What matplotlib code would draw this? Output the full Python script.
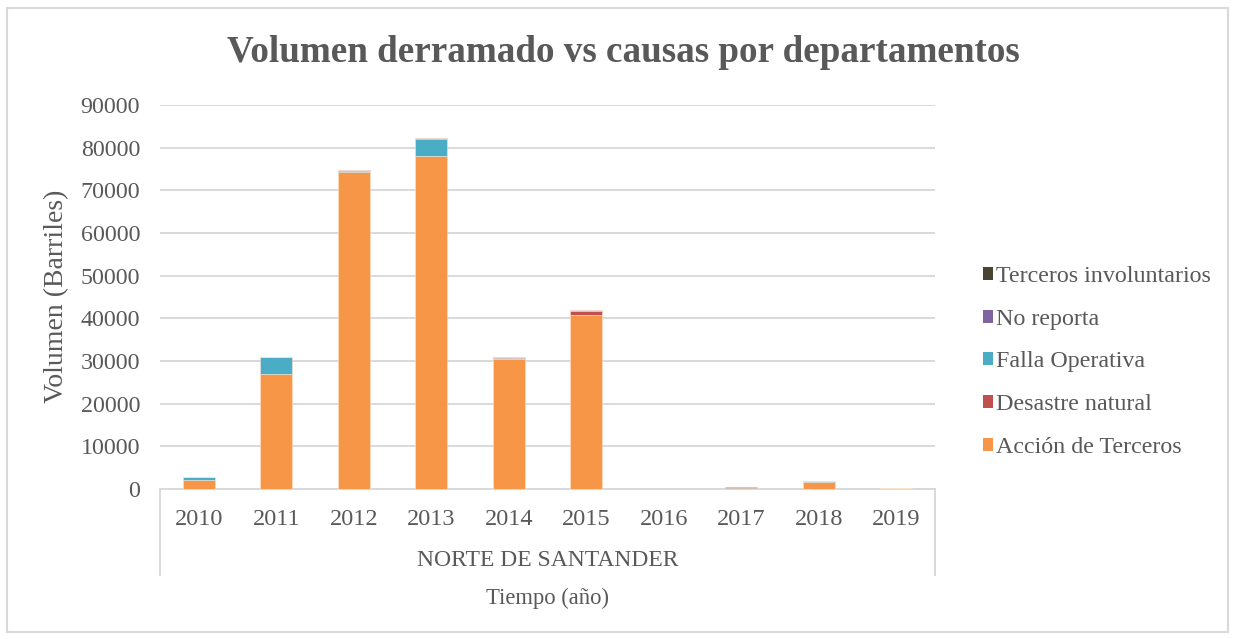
import matplotlib
matplotlib.use("Agg")
import matplotlib.pyplot as plt
from matplotlib.patches import Rectangle, Patch
from matplotlib.lines import Line2D
import numpy as np

years = ["2010", "2011", "2012", "2013", "2014", "2015", "2016", "2017", "2018", "2019"]
series_names = ["Acción de Terceros", "Desastre natural", "Falla Operativa", "No reporta", "Terceros involuntarios"]
accion_terceros = [2100, 27000, 74400, 78100, 30400, 40800, 100, 200, 1700, 150]
desastre_natural = [0, 0, 0, 0, 0, 850, 0, 0, 0, 0]
falla_operativa = [700, 4000, 200, 4000, 300, 0, 0, 0, 150, 0]
no_reporta = [0, 0, 200, 200, 150, 300, 0, 0, 0, 0]
terceros_involuntarios = [0, 0, 0, 0, 0, 0, 0, 200, 0, 200]
colors = ["#F79646", "#C0504D", "#4BACC6", "#8064A2", "#4A4530"]

title = "Volumen derramado vs causas por departamentos"
group_label = "NORTE DE SANTANDER"
xlabel = "Tiempo (año)"
ylabel = "Volumen (Barriles)"
yticks = [0, 10000, 20000, 30000, 40000, 50000, 60000, 70000, 80000, 90000]

plt.rcParams['font.family'] = ['Liberation Serif', 'DejaVu Serif']
txt = "#595959"
grid_c = "#D9D9D9"

W, H = 1236, 639
fig = plt.figure(figsize=(W / 100, H / 100), dpi=100)

# outer chart border
fig.patches.append(Rectangle((7 / W, 1 - 632 / H), (1228 - 7) / W, (632 - 8) / H,
                             transform=fig.transFigure, fill=False, edgecolor=grid_c, linewidth=1.5))

L, R, B, T = 160, 935, 489, 105
ax = fig.add_axes([L / W, 1 - B / H, (R - L) / W, (B - T) / H])

data = [accion_terceros, desastre_natural, falla_operativa, no_reporta, terceros_involuntarios]
x = np.arange(len(years))
bottom = np.zeros(len(years))
for name, vals, c in zip(series_names, data, colors):
    v = np.array(vals, dtype=float)
    ax.bar(x, v, 0.41, bottom=bottom, color=c, edgecolor="#FBE3CF", linewidth=0.4, label=name, zorder=3)
    bottom += v

ax.set_xlim(-0.5, len(years) - 0.5)
ax.set_ylim(0, 90000)
ax.set_yticks(yticks)
ax.set_yticklabels([str(t) for t in yticks], fontsize=17.3, color=txt)
ax.yaxis.grid(True, color=grid_c, linewidth=1.4, zorder=0)
ax.set_axisbelow(True)
for s in ["top", "right", "left"]:
    ax.spines[s].set_visible(False)
ax.spines["bottom"].set_color(grid_c)
ax.spines["bottom"].set_linewidth(1.4)
ax.tick_params(axis="y", length=0, pad=14.4)
ax.tick_params(axis="x", length=0, pad=14.5)
ax.set_xticks(x)
ax.set_xticklabels(years, fontsize=17.5, color=txt)

# group separator lines
for xp in [L, R]:
    fig.add_artist(Line2D([xp / W, xp / W], [1 - B / H, 1 - 575 / H], transform=fig.transFigure,
                          color=grid_c, linewidth=1.4))

fig.text(((L + R) / 2) / W, 1 - 560 / H, group_label, ha="center", va="center", fontsize=17, color=txt)
fig.text(((L + R) / 2) / W, 1 - 598 / H, xlabel, ha="center", va="center", fontsize=16.3, color=txt)
fig.text(57 / W, 1 - 296 / H, ylabel, ha="center", va="center", rotation=90, fontsize=20, color=txt)
fig.text(623 / W, 1 - 52 / H, title, ha="center", va="center", fontsize=26.7, fontweight="bold", color=txt)

handles = [Patch(facecolor=c, edgecolor="none") for c in colors][::-1]
labels = series_names[::-1]
leg = fig.legend(handles, labels, loc="center left", bbox_to_anchor=(973 / W, 1 - 362 / H),
                 frameon=False, fontsize=17.3, handlelength=0.45, handleheight=0.45,
                 handletextpad=0.12, labelspacing=0.9, borderaxespad=0)
for t in leg.get_texts():
    t.set_color(txt)

fig.savefig("out.png", dpi=100)
